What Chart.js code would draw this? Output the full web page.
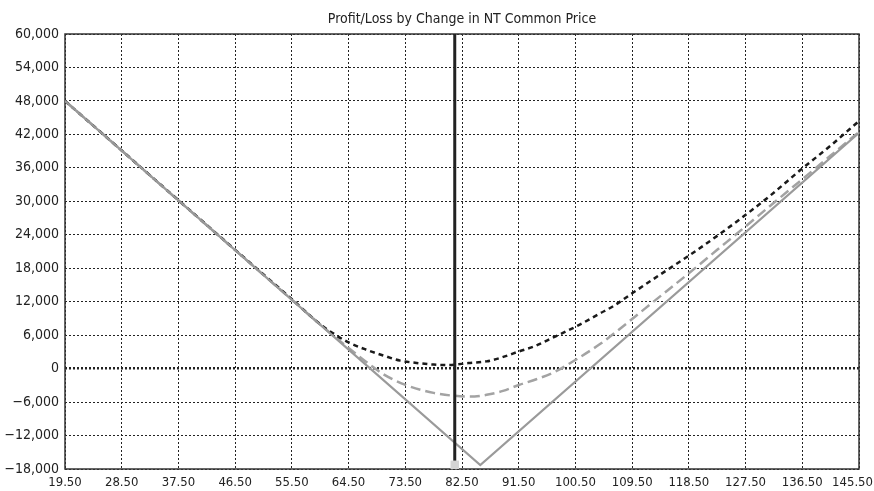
<!DOCTYPE html>
<html>
<head>
<meta charset="utf-8">
<script src="https://cdn.jsdelivr.net/npm/chart.js@4.4.1/dist/chart.umd.min.js"></script>
<style>
html,body{margin:0;padding:0;background:#fff;}
#wrap{width:874px;height:491px;position:relative;}
</style>
</head>
<body>
<div id="wrap"><canvas id="c" width="874" height="491"></canvas></div>
<script>
// ---- data ----
const chartTitle = "Profit/Loss by Change in NT Common Price";
const xTicks = [19.5, 28.5, 37.5, 46.5, 55.5, 64.5, 73.5, 82.5, 91.5, 100.5, 109.5, 118.5, 127.5, 136.5, 145.5];
const yTicks = [-18000, -12000, -6000, 0, 6000, 12000, 18000, 24000, 30000, 36000, 42000, 48000, 54000, 60000];

// Solid grey: payoff at expiration
const expiryPrices = [19.5, 85.4, 145.5];
const expiryPL     = [48000, -17300, 42300];

// Black dotted: current P/L
const nowPrices = [19.5, 28.5, 37.5, 46.5, 55.5, 60, 62.5, 64.5, 67.4, 70, 72.7, 75.3, 78, 80.5, 83.5, 86.4, 88.5, 91.6, 94, 97, 100.7, 104.4, 106.5, 109.5, 114, 118.7, 123, 127.2, 131.5, 136.2, 141, 145.5];
const nowPL     = [48000, 39100, 30200, 21300, 12450, 7950, 6000, 4700, 3350, 2350, 1430, 1020, 720, 650, 1000, 1300, 1900, 3100, 4000, 5600, 7600, 9900, 11200, 13500, 16900, 20400, 23800, 27300, 31100, 35600, 40000, 44400];

// Grey dashed: P/L at an intermediate date
const midPrices = [19.5, 28.5, 37.5, 46.5, 55.5, 60, 64.5, 68, 70, 73.7, 78, 82.2, 84.5, 86.4, 89, 91.6, 94.3, 97, 100.7, 104.4, 106.5, 109.5, 113, 118.5, 123, 127.5, 132, 136.5, 141, 145.5];
const midPL     = [48000, 39100, 30150, 21250, 12350, 7900, 3700, 600, -1000, -3000, -4350, -4950, -5000, -4700, -4000, -2900, -1900, -700, 1700, 4400, 6200, 8900, 12100, 17100, 21300, 25500, 29750, 33950, 38200, 42450];

// Current stock price marker
const currentPrice = [81.35];
const markerPL = [-17250];

// ---- helpers ----
const FONT = "'Liberation Sans Narrow', 'Arial Narrow', 'DejaVu Sans Condensed', sans-serif";
const X_FONT_SIZE = 13;
const pts = (xs, ys) => xs.map((x, i) => ({x: x, y: ys[i]}));
const yMin = yTicks[0], yMax = yTicks[yTicks.length - 1];
const fmtX = v => Number(v).toFixed(2);
const fmtY = v => (v < 0 ? "\u2212" : "") + Math.abs(v).toLocaleString("en-US");
const lastX = xTicks.length - 1;

const titlePlugin = {
  id: "topTitle",
  afterDraw(chart) {
    const {ctx, chartArea: a, width} = chart;
    ctx.save();
    ctx.font = "14px " + FONT;
    ctx.fillStyle = "#222";
    ctx.textAlign = "center";
    ctx.textBaseline = "middle";
    ctx.fillText(chartTitle, (a.left + a.right) / 2, 19);
    // last x tick label, kept inside the canvas (right aligned)
    ctx.font = X_FONT_SIZE + "px " + FONT;
    ctx.textAlign = "right";
    ctx.textBaseline = "middle";
    ctx.fillText(fmtX(xTicks[lastX]), width - 1, a.bottom + 6 + X_FONT_SIZE * 0.6);
    ctx.restore();
  }
};
const framePlugin = {
  id: "frame",
  beforeDatasetsDraw(chart) {
    const {ctx, chartArea: a} = chart;
    ctx.save();
    ctx.strokeStyle = "#333";
    ctx.lineWidth = 1.5;
    ctx.setLineDash([]);
    ctx.strokeRect(a.left, a.top, a.right - a.left, a.bottom - a.top);
    ctx.restore();
  }
};

new Chart(document.getElementById("c"), {
  type: "scatter",
  data: {
    datasets: [
      {
        label: "Marker",
        data: pts(currentPrice, markerPL),
        pointStyle: "rect", pointRadius: 6, pointBackgroundColor: "#d4d4d4",
        pointBorderWidth: 0, pointBorderColor: "#d4d4d4", showLine: false, order: -1
      },
      {
        label: "Current price",
        data: [{x: currentPrice[0], y: yMax}, {x: currentPrice[0], y: yMin}],
        showLine: true, borderColor: "#222", borderWidth: 3, pointRadius: 0, order: 0
      },
      {
        label: "Expiration",
        data: pts(expiryPrices, expiryPL),
        showLine: true, borderColor: "#9a9a9a", borderWidth: 2.2, pointRadius: 0, order: 1
      },
      {
        label: "Now",
        data: pts(nowPrices, nowPL),
        showLine: true, borderColor: "#1a1a1a", borderWidth: 2.5, borderDash: [5, 4],
        pointRadius: 0, cubicInterpolationMode: "monotone", order: 2
      },
      {
        label: "Intermediate",
        data: pts(midPrices, midPL),
        showLine: true, borderColor: "#a3a3a3", borderWidth: 2.5, borderDash: [10, 5],
        pointRadius: 0, cubicInterpolationMode: "monotone", order: 3
      }
    ]
  },
  options: {
    responsive: false,
    animation: false,
    devicePixelRatio: 1,
    layout: {padding: {top: 34, right: 15, left: 0, bottom: 0}},
    plugins: {legend: {display: false}, tooltip: {enabled: false}, title: {display: false}},
    scales: {
      x: {
        type: "linear",
        min: xTicks[0], max: xTicks[lastX],
        afterBuildTicks: s => { s.ticks = xTicks.map(v => ({value: v})); },
        afterFit: s => { s.height = 22; s.paddingRight = 0; s.paddingLeft = 0; },
        ticks: {
          autoSkip: false, maxRotation: 0, padding: 6,
          color: "#222", font: {family: FONT, size: X_FONT_SIZE},
          callback: (v, i) => (i === lastX ? "" : fmtX(v))
        },
        grid: {color: "#222", lineWidth: 1, drawTicks: false},
        border: {display: false, dash: [2, 2]}
      },
      y: {
        type: "linear",
        min: yMin, max: yMax,
        afterBuildTicks: s => { s.ticks = yTicks.map(v => ({value: v})); },
        afterFit: s => { s.width = 65; s.paddingTop = 0; s.paddingBottom = 0; },
        ticks: {
          autoSkip: false, padding: 6,
          color: "#222", font: {family: FONT, size: 14},
          callback: v => fmtY(v)
        },
        grid: {
          color: "#222",
          lineWidth: c => (c.tick && c.tick.value === 0 ? 2.5 : 1),
          drawTicks: false
        },
        border: {display: false, dash: [2, 2]}
      }
    }
  },
  plugins: [framePlugin, titlePlugin]
});
</script>
</body>
</html>
